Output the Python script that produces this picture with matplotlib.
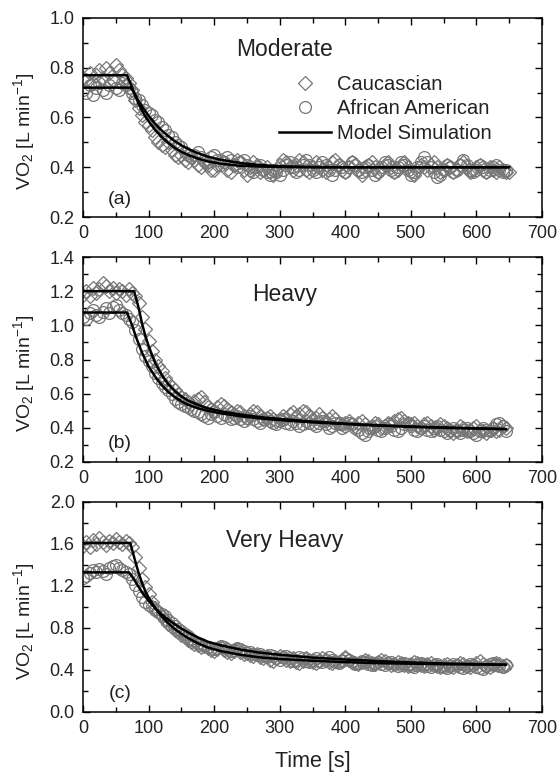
import numpy as np
import matplotlib
matplotlib.use("Agg")
import matplotlib.pyplot as plt
from matplotlib.ticker import MultipleLocator

plt.rcParams['font.family'] = ['Liberation Sans', 'DejaVu Sans']
plt.rcParams['mathtext.default'] = 'regular'

TIME_STEP = 5  # s between plotted samples

# ---------------- Panel (a) Moderate ----------------
mod_cauc = [
    0.76, 0.75, 0.78, 0.74, 0.77, 0.79, 0.76, 0.80, 0.78, 0.75,
    0.81, 0.79, 0.77, 0.76, 0.74, 0.71, 0.67, 0.64, 0.61, 0.58,
    0.57, 0.55, 0.52, 0.50, 0.49, 0.48, 0.50, 0.47, 0.45, 0.44,
    0.45, 0.43, 0.42, 0.44, 0.43, 0.41, 0.40, 0.42, 0.41, 0.39,
    0.39, 0.41, 0.43, 0.42, 0.39, 0.38, 0.41, 0.43, 0.42, 0.39,
    0.37, 0.40, 0.42, 0.41, 0.38, 0.39, 0.40, 0.38, 0.37, 0.39,
    0.41, 0.43, 0.42, 0.40, 0.39, 0.41, 0.43, 0.42, 0.39, 0.38,
    0.40, 0.42, 0.41, 0.39, 0.38, 0.40, 0.42, 0.43, 0.41, 0.39,
    0.38, 0.40, 0.42, 0.41, 0.39, 0.37, 0.39, 0.41, 0.42, 0.40,
    0.38, 0.39, 0.41, 0.42, 0.40, 0.38, 0.39, 0.41, 0.42, 0.40,
    0.38, 0.37, 0.39, 0.41, 0.40, 0.39, 0.41, 0.42, 0.40, 0.38,
    0.39, 0.41, 0.40, 0.38, 0.39, 0.41, 0.42, 0.40, 0.38, 0.39,
    0.40, 0.41, 0.39, 0.38, 0.40, 0.39, 0.38, 0.40, 0.39, 0.38,
    0.38,
]
mod_aa = [
    0.71, 0.70, 0.73, 0.69, 0.72, 0.74, 0.71, 0.70, 0.73, 0.75,
    0.72, 0.71, 0.74, 0.73, 0.72, 0.70, 0.68, 0.67, 0.65, 0.63,
    0.62, 0.61, 0.59, 0.58, 0.56, 0.55, 0.53, 0.52, 0.50, 0.49,
    0.48, 0.46, 0.45, 0.44, 0.45, 0.46, 0.44, 0.43, 0.42, 0.44,
    0.45, 0.43, 0.41, 0.42, 0.44, 0.43, 0.41, 0.40, 0.42, 0.43,
    0.41, 0.39, 0.38, 0.40, 0.41, 0.39, 0.38, 0.37, 0.39, 0.38,
    0.37, 0.39, 0.41, 0.42, 0.40, 0.38, 0.39, 0.41, 0.43, 0.41,
    0.39, 0.38, 0.40, 0.42, 0.41, 0.39, 0.37, 0.39, 0.41, 0.40,
    0.38, 0.40, 0.42, 0.41, 0.39, 0.38, 0.40, 0.41, 0.39, 0.37,
    0.38, 0.40, 0.42, 0.41, 0.39, 0.38, 0.40, 0.42, 0.41, 0.39,
    0.37, 0.38, 0.40, 0.42, 0.44, 0.42, 0.40, 0.38, 0.36, 0.37,
    0.39, 0.41, 0.40, 0.38, 0.39, 0.41, 0.43, 0.41, 0.39, 0.38,
    0.39, 0.41, 0.40, 0.38, 0.39, 0.40, 0.41, 0.39, 0.38, 0.39,
]
mod_model_cauc_t = [0, 67, 75, 80, 85, 90, 95, 100, 110, 120, 130, 140, 150, 160, 175, 190, 210, 240, 270, 300, 350, 400, 500, 650]
mod_model_cauc_v = [0.77, 0.77, 0.72, 0.685, 0.655, 0.628, 0.605, 0.585, 0.550, 0.522, 0.498, 0.478, 0.462, 0.450, 0.435, 0.424, 0.414, 0.406, 0.403, 0.401, 0.400, 0.400, 0.400, 0.400]
mod_model_aa_t = [0, 73, 80, 85, 90, 95, 100, 110, 120, 130, 140, 150, 160, 175, 190, 210, 240, 270, 300, 350, 400, 500, 645]
mod_model_aa_v = [0.72, 0.72, 0.69, 0.665, 0.645, 0.625, 0.607, 0.575, 0.548, 0.525, 0.505, 0.488, 0.474, 0.457, 0.443, 0.430, 0.417, 0.409, 0.404, 0.401, 0.400, 0.400, 0.400]

# ---------------- Panel (b) Heavy ----------------
hvy_cauc = [
    1.18, 1.20, 1.17, 1.22, 1.19, 1.21, 1.25, 1.23, 1.20, 1.22,
    1.19, 1.21, 1.20, 1.18, 1.21, 1.19, 1.17, 1.13, 1.05, 0.98,
    0.91, 0.85, 0.80, 0.76, 0.73, 0.69, 0.66, 0.64, 0.62, 0.60,
    0.58, 0.57, 0.55, 0.54, 0.56, 0.57, 0.58, 0.55, 0.52, 0.51,
    0.50, 0.52, 0.54, 0.53, 0.51, 0.49, 0.48, 0.50, 0.49, 0.47,
    0.46, 0.48, 0.50, 0.49, 0.47, 0.45, 0.46, 0.47, 0.45, 0.44,
    0.45, 0.47, 0.46, 0.48, 0.49, 0.47, 0.48, 0.50, 0.49, 0.47,
    0.45, 0.46, 0.48, 0.46, 0.44, 0.45, 0.47, 0.45, 0.43, 0.42,
    0.43, 0.44, 0.42, 0.41, 0.43, 0.44, 0.42, 0.40, 0.41, 0.43,
    0.42, 0.40, 0.41, 0.43, 0.42, 0.44, 0.45, 0.46, 0.44, 0.43,
    0.42, 0.43, 0.41, 0.40, 0.42, 0.43, 0.41, 0.39, 0.40, 0.42,
    0.41, 0.40, 0.38, 0.37, 0.39, 0.41, 0.40, 0.38, 0.39, 0.40,
    0.41, 0.39, 0.38, 0.37, 0.39, 0.40, 0.38, 0.39, 0.41, 0.40,
]
hvy_aa = [
    1.05, 1.04, 1.07, 1.09, 1.06, 1.05, 1.08, 1.10, 1.07, 1.11,
    1.12, 1.09, 1.07, 1.06, 1.04, 1.02, 0.97, 0.92, 0.86, 0.82,
    0.79, 0.76, 0.72, 0.69, 0.66, 0.64, 0.62, 0.60, 0.57, 0.55,
    0.54, 0.53, 0.52, 0.51, 0.50, 0.49, 0.48, 0.47, 0.46, 0.48,
    0.49, 0.47, 0.46, 0.48, 0.47, 0.45, 0.46, 0.47, 0.45, 0.44,
    0.46, 0.47, 0.45, 0.44, 0.43, 0.45, 0.46, 0.44, 0.43, 0.42,
    0.44, 0.45, 0.43, 0.42, 0.44, 0.43, 0.41, 0.42, 0.44, 0.43,
    0.42, 0.41, 0.43, 0.44, 0.42, 0.40, 0.41, 0.43, 0.42, 0.40,
    0.41, 0.43, 0.42, 0.40, 0.39, 0.37, 0.36, 0.38, 0.40, 0.41,
    0.39, 0.38, 0.40, 0.42, 0.41, 0.39, 0.38, 0.40, 0.42, 0.43,
    0.41, 0.39, 0.38, 0.40, 0.41, 0.39, 0.38, 0.40, 0.41, 0.39,
    0.38, 0.37, 0.39, 0.40, 0.38, 0.37, 0.39, 0.40, 0.38, 0.37,
    0.36, 0.38, 0.40, 0.39, 0.38, 0.40, 0.42, 0.43, 0.41, 0.38,
]
hvy_model_cauc_t = [0, 78, 85, 90, 95, 100, 110, 120, 130, 140, 150, 160, 175, 190, 210, 240, 270, 300, 350, 400, 450, 500, 550, 600, 645]
hvy_model_cauc_v = [1.20, 1.20, 1.10, 1.01, 0.94, 0.88, 0.78, 0.71, 0.655, 0.615, 0.585, 0.56, 0.535, 0.515, 0.497, 0.478, 0.463, 0.452, 0.437, 0.425, 0.415, 0.408, 0.402, 0.397, 0.393]
hvy_model_aa_t = [0, 67, 75, 80, 90, 100, 110, 120, 130, 140, 150, 160, 175, 190, 210, 240, 270, 300, 350, 400, 450, 500, 550, 600, 645]
hvy_model_aa_v = [1.075, 1.075, 1.00, 0.94, 0.84, 0.76, 0.70, 0.65, 0.61, 0.58, 0.555, 0.535, 0.515, 0.50, 0.485, 0.468, 0.455, 0.445, 0.432, 0.422, 0.413, 0.406, 0.40, 0.396, 0.392]

# ---------------- Panel (c) Very Heavy ----------------
vh_cauc = [
    1.58, 1.62, 1.57, 1.64, 1.60, 1.66, 1.62, 1.59, 1.63, 1.61,
    1.65, 1.62, 1.60, 1.63, 1.61, 1.57, 1.48, 1.37, 1.27, 1.19,
    1.12, 1.05, 0.99, 0.95, 0.91, 0.88, 0.84, 0.81, 0.78, 0.76,
    0.73, 0.71, 0.69, 0.67, 0.65, 0.64, 0.62, 0.63, 0.61, 0.59,
    0.58, 0.60, 0.62, 0.59, 0.57, 0.56, 0.58, 0.60, 0.57, 0.55,
    0.56, 0.54, 0.53, 0.55, 0.52, 0.51, 0.53, 0.50, 0.49, 0.51,
    0.53, 0.52, 0.50, 0.49, 0.51, 0.48, 0.47, 0.49, 0.51, 0.50,
    0.48, 0.47, 0.49, 0.51, 0.50, 0.48, 0.47, 0.49, 0.48, 0.50,
    0.52, 0.50, 0.48, 0.47, 0.46, 0.48, 0.50, 0.49, 0.47, 0.46,
    0.48, 0.50, 0.49, 0.47, 0.45, 0.46, 0.48, 0.47, 0.45, 0.44,
    0.46, 0.48, 0.47, 0.45, 0.44, 0.46, 0.47, 0.45, 0.44, 0.43,
    0.45, 0.46, 0.44, 0.43, 0.45, 0.47, 0.46, 0.44, 0.43, 0.45,
    0.47, 0.49, 0.46, 0.44, 0.43, 0.45, 0.47, 0.46, 0.44, 0.45,
]
vh_aa = [
    1.28, 1.30, 1.32, 1.35, 1.33, 1.36, 1.34, 1.31, 1.37, 1.39,
    1.40, 1.37, 1.35, 1.33, 1.31, 1.27, 1.21, 1.15, 1.10, 1.05,
    1.02, 1.00, 0.97, 0.95, 0.93, 0.91, 0.88, 0.85, 0.82, 0.79,
    0.77, 0.74, 0.72, 0.70, 0.68, 0.66, 0.65, 0.63, 0.62, 0.61,
    0.60, 0.61, 0.63, 0.62, 0.60, 0.58, 0.59, 0.61, 0.60, 0.58,
    0.56, 0.57, 0.55, 0.54, 0.55, 0.53, 0.52, 0.54, 0.53, 0.51,
    0.50, 0.52, 0.53, 0.51, 0.49, 0.50, 0.52, 0.51, 0.49, 0.48,
    0.50, 0.51, 0.49, 0.48, 0.50, 0.52, 0.50, 0.48, 0.47, 0.49,
    0.51, 0.50, 0.48, 0.46, 0.47, 0.49, 0.48, 0.46, 0.45, 0.47,
    0.48, 0.46, 0.45, 0.47, 0.48, 0.46, 0.44, 0.45, 0.47, 0.46,
    0.44, 0.43, 0.45, 0.47, 0.46, 0.44, 0.43, 0.45, 0.46, 0.44,
    0.43, 0.42, 0.44, 0.46, 0.45, 0.43, 0.42, 0.44, 0.46, 0.45,
    0.43, 0.42, 0.41, 0.44, 0.46, 0.47, 0.45, 0.44, 0.43, 0.45,
]
vh_model_cauc_t = [0, 72, 80, 85, 90, 95, 100, 105, 110, 120, 130, 140, 150, 160, 175, 190, 210, 240, 270, 300, 350, 400, 450, 500, 550, 600, 645]
vh_model_cauc_v = [1.61, 1.61, 1.43, 1.32, 1.23, 1.15, 1.09, 1.04, 0.99, 0.91, 0.845, 0.79, 0.745, 0.705, 0.655, 0.615, 0.58, 0.545, 0.52, 0.505, 0.488, 0.475, 0.465, 0.46, 0.455, 0.452, 0.45]
vh_model_aa_t = [0, 70, 75, 80, 90, 100, 110, 120, 130, 140, 150, 160, 175, 190, 210, 240, 270, 300, 350, 400, 450, 500, 550, 600, 645]
vh_model_aa_v = [1.33, 1.33, 1.29, 1.24, 1.14, 1.06, 0.99, 0.93, 0.88, 0.835, 0.795, 0.76, 0.71, 0.67, 0.635, 0.595, 0.565, 0.545, 0.518, 0.50, 0.485, 0.472, 0.462, 0.456, 0.45]

panels = [
    dict(title="Moderate", tag="(a)", ylim=(0.2, 1.0), major=0.2, minor=0.1,
         cauc=mod_cauc, aa=mod_aa,
         mc=(mod_model_cauc_t, mod_model_cauc_v), ma=(mod_model_aa_t, mod_model_aa_v),
         box=(18, 217)),
    dict(title="Heavy", tag="(b)", ylim=(0.2, 1.4), major=0.2, minor=0.1,
         cauc=hvy_cauc, aa=hvy_aa,
         mc=(hvy_model_cauc_t, hvy_model_cauc_v), ma=(hvy_model_aa_t, hvy_model_aa_v),
         box=(257, 462)),
    dict(title="Very Heavy", tag="(c)", ylim=(0.0, 2.0), major=0.4, minor=0.2,
         cauc=vh_cauc, aa=vh_aa,
         mc=(vh_model_cauc_t, vh_model_cauc_v), ma=(vh_model_aa_t, vh_model_aa_v),
         box=(502, 712)),
]

W, H = 558, 775
fig = plt.figure(figsize=(W / 100, H / 100), dpi=100)
TXT = '#222222'
MK = '#777777'
x0, x1 = 83, 542

for i, p in enumerate(panels):
    top, bot = p['box']
    ax = fig.add_axes([x0 / W, 1 - bot / H, (x1 - x0) / W, (bot - top) / H])
    tc = TIME_STEP * np.arange(len(p['cauc']))
    ta = TIME_STEP * np.arange(len(p['aa']))
    ax.plot(tc, p['cauc'], linestyle='none', marker='D', ms=7.5, mfc='none',
            mec=MK, mew=0.9, label='Caucascian', zorder=2)
    ax.plot(ta, p['aa'], linestyle='none', marker='o', ms=8.5, mfc='none',
            mec=MK, mew=0.9, label='African American', zorder=2)
    ax.plot(p['mc'][0], p['mc'][1], color='black', lw=1.8, label='Model Simulation', zorder=3)
    ax.plot(p['ma'][0], p['ma'][1], color='black', lw=1.8, zorder=3)

    ax.set_xlim(0, 700)
    ax.set_ylim(*p['ylim'])
    ax.xaxis.set_major_locator(MultipleLocator(100))
    ax.xaxis.set_minor_locator(MultipleLocator(50))
    ax.yaxis.set_major_locator(MultipleLocator(p['major']))
    ax.yaxis.set_minor_locator(MultipleLocator(p['minor']))
    ax.yaxis.set_major_formatter(plt.FormatStrFormatter('%.1f'))
    ax.tick_params(which='both', direction='in', top=True, right=True,
                   colors='black', labelcolor=TXT, labelsize=13, pad=6, width=1.0)
    ax.tick_params(which='major', length=5)
    ax.tick_params(which='minor', length=3.5)
    for s in ax.spines.values():
        s.set_linewidth(1.1)

    ax.set_ylabel(r'VO$_2$ [L min$^{-1}$]', fontsize=14, color=TXT)
    ax.yaxis.set_label_coords(-0.1, 0.43)
    ax.text(0.44, 0.84 if i == 0 else 0.815, p['title'], transform=ax.transAxes,
            ha='center', va='center', fontsize=16.5, color=TXT)
    ax.text(0.08, 0.09, p['tag'], transform=ax.transAxes, ha='center', va='center',
            fontsize=14, color=TXT)
    if i == 0:
        ax.legend(loc='upper right', bbox_to_anchor=(0.912, 0.765), frameon=False,
                  fontsize=14.5, handlelength=2.6, handletextpad=0.3, labelspacing=0.28,
                  borderpad=0.0, labelcolor=TXT)
    if i == 2:
        ax.set_xlabel('Time [s]', fontsize=15.5, color=TXT, labelpad=10)

fig.savefig('out.png', dpi=100)
